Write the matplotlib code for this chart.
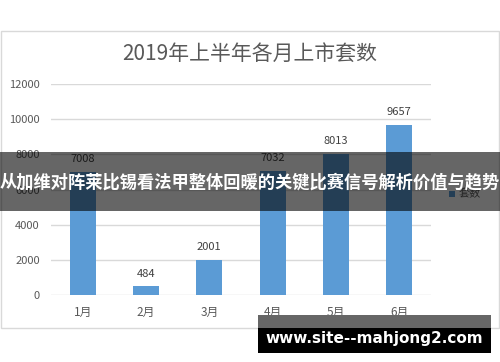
import matplotlib
matplotlib.use("Agg")
import matplotlib.pyplot as plt
from matplotlib.patches import Rectangle

plt.rcParams['font.family'] = ['Noto Sans CJK SC', 'DejaVu Sans']

months = ["1月", "2月", "3月", "4月", "5月", "6月"]
values = [7008, 484, 2001, 7032, 8013, 9657]
yticks = [0, 2000, 4000, 6000, 8000, 10000, 12000]
title = "2019年上半年各月上市套数"
series_name = "套数"
banner = "从加维对阵莱比锡看法甲整体回暖的关键比赛信号解析价值与趋势"
watermark = "www.site--mahjong2.com"

W, H = 500, 362
fig = plt.figure(figsize=(W / 100, H / 100), dpi=100)
fig.patch.set_facecolor("white")

def fx(px):
    return px / W

def fy(py):
    return 1 - py / H

# chart frame
fig.patches.append(Rectangle((fx(1), fy(328)), fx(498), 297 / H, transform=fig.transFigure,
                             facecolor="white", edgecolor="#D9D9D9", lw=1, zorder=-5))

ax = fig.add_axes([fx(51), fy(295), fx(380), (295 - 84) / H])
ax.set_zorder(1)
ax.set_facecolor("none")
x = range(len(months))
bars = ax.bar(x, values, width=0.41, color="#5B9BD5", zorder=2)
for xi, v in zip(x, values):
    ax.text(xi, v + 450, str(v), ha="center", va="bottom", fontsize=8, color="#404040")
ax.set_ylim(0, 12000)
ax.set_xlim(-0.5, len(months) - 0.5)
ax.set_yticks(yticks)
ax.set_yticklabels([str(t) for t in yticks], fontsize=8, color="#595959")
ax.set_xticks(list(x))
ax.set_xticklabels(months, fontsize=8.5, color="#595959")
ax.tick_params(length=0, pad=8)
ax.grid(axis="y", color="#D9D9D9", lw=1, zorder=0)
ax.set_axisbelow(True)
for s in ax.spines.values():
    s.set_visible(False)

fig.text(0.5, fy(54), title, ha="center", va="center", fontsize=15, color="#595959")

# legend
fig.patches.append(Rectangle((fx(449), fy(197)), fx(6), 6 / H, transform=fig.transFigure,
                             facecolor="#5B9BD5", edgecolor="none", zorder=3))
fig.text(fx(459), fy(194), series_name, ha="left", va="center", fontsize=8, color="#595959", zorder=3)

# banner overlay
fig.patches.append(Rectangle((0, fy(211)), 1, (211 - 152) / H, transform=fig.transFigure,
                             facecolor="black", alpha=0.6, edgecolor="none", zorder=10))
fig.text(0.5, fy(182), banner, ha="center", va="center", fontsize=12.4, color="white",
         fontweight="bold", zorder=11)

# watermark
fig.patches.append(Rectangle((fx(258), fy(328)), fx(233), 13 / H, transform=fig.transFigure,
                             facecolor="#666666", edgecolor="none", zorder=10))
fig.patches.append(Rectangle((fx(258), fy(353)), fx(233), 25 / H, transform=fig.transFigure,
                             facecolor="black", edgecolor="none", zorder=10))
fig.text(fx(374), fy(338), watermark, ha="center", va="center", fontsize=11, color="white",
         fontweight="bold", zorder=11, family=["DejaVu Sans"])

fig.savefig("out.png", dpi=100)
